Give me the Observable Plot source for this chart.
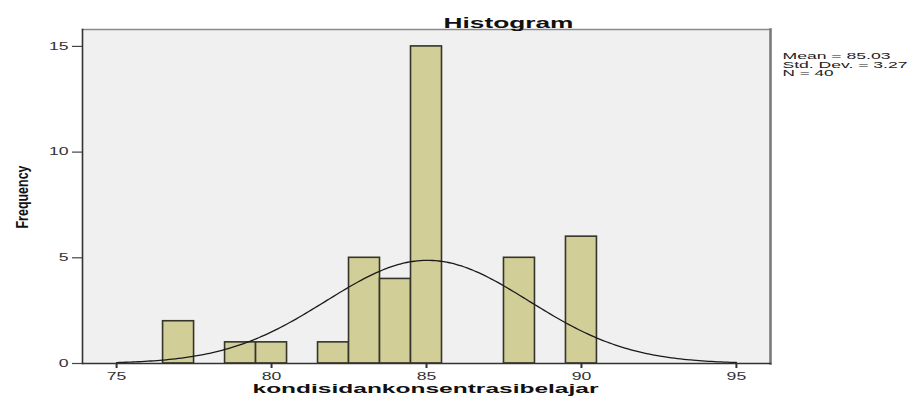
<!DOCTYPE html>
<html>
<head>
<meta charset="utf-8">
<script src="https://cdn.jsdelivr.net/npm/d3@7"></script>
<script src="https://cdn.jsdelivr.net/npm/@observablehq/plot@0.6"></script>
<style>
  html, body { margin: 0; padding: 0; background: #fff; }
  #chart svg { display: block; }
</style>
</head>
<body>
<div id="chart"></div>
<script>
// ---- data ----
const binCenters = [77, 79, 80, 82, 83, 84, 85, 88, 90];
const binCounts  = [2, 1, 1, 1, 5, 4, 15, 5, 6];
const binWidth = 1;
const xTicks = [75, 80, 85, 90, 95];
const yTicks = [0, 5, 10, 15];
const xDomain = [73.9, 96.1];
const yDomain = [0, 15.8];
const mean = 85.03, stdDev = 3.27, nObs = 40;
const titleText = "Histogram";
const xLabel = "kondisidankonsentrasibelajar";
const yLabel = "Frequency";
const statLines = ["Mean = 85.03", "Std. Dev. = 3.27", "N = 40"];

// ---- derived tables ----
const bars = binCenters.map((c, i) => ({x1: c - binWidth / 2, x2: c + binWidth / 2, count: binCounts[i]}));
// fitted normal curve (scaled to counts) over the axis range
const curve = d3.range(75, 95.001, 0.1).map(x => ({
  x,
  y: nObs * binWidth * Math.exp(-0.5 * ((x - mean) / stdDev) ** 2) / (stdDev * Math.sqrt(2 * Math.PI))
}));

const font = "'Liberation Sans', Arial, sans-serif";

const plot = Plot.plot({
  width: 913,
  height: 401,
  marginLeft: 82,
  marginRight: 143,
  marginTop: 29,
  marginBottom: 38,
  style: {fontFamily: font, background: "#fff"},
  x: {domain: xDomain, axis: null},
  y: {domain: yDomain, axis: null},
  marks: [
    Plot.frame({fill: "#f0f0f0", stroke: null}),
    Plot.rectY(bars, {x1: "x1", x2: "x2", y: "count", fill: "#d2ce98", stroke: "#34342a", strokeWidth: 1.6, inset: 0}),
    Plot.line(curve, {x: "x", y: "y", stroke: "#1a1a1a", strokeWidth: 1.3, curve: "basis"}),
    Plot.frame({anchor: "top", stroke: "#8a8a8a", strokeWidth: 1.6}),
    Plot.frame({anchor: "right", stroke: "#7a7a7a", strokeWidth: 2.6}),
    Plot.frame({anchor: "left", stroke: "#333", strokeWidth: 1.6}),
    Plot.frame({anchor: "bottom", stroke: "#333", strokeWidth: 1.6}),
    Plot.axisX({ticks: xTicks, tickSize: 5, tickPadding: 4, label: null, fontSize: 10, fill: "#333", stroke: "#333", strokeWidth: 2}),
    Plot.axisY({ticks: yTicks, tickSize: 10, tickPadding: 4, label: null, fontSize: 10, fill: "#333", stroke: "#444", strokeWidth: 1.2}),
    Plot.text([titleText], {frameAnchor: "top", dx: 82, dy: -11.8, fontSize: 15, fontWeight: "bold", fill: "#111"}),
    Plot.text([yLabel], {frameAnchor: "left", rotate: -90, textAnchor: "start", dx: -60.4, dy: 32, fontSize: 17, fontWeight: "bold", fill: "#111"}),
    Plot.text([xLabel], {frameAnchor: "bottom", dx: -1, dy: 29.8, fontSize: 13, fontWeight: "bold", fill: "#111"}),
    Plot.text([statLines[0]], {frameAnchor: "top-right", textAnchor: "start", dx: 12, dy: 23.4, fontSize: 9, fill: "#222"}),
    Plot.text([statLines[1]], {frameAnchor: "top-right", textAnchor: "start", dx: 12, dy: 31.8, fontSize: 9, fill: "#222"}),
    Plot.text([statLines[2]], {frameAnchor: "top-right", textAnchor: "start", dx: 12, dy: 40.2, fontSize: 9, fill: "#222"})
  ]
});

// stretch/condense texts to SPSS-like widths
const targetLengths = new Map([
  [titleText, 130],
  [yLabel, 63],
  [xLabel, 346],
  [statLines[0], 108],
  [statLines[1], 125],
  [statLines[2], 51]
]);
d3.select(plot).selectAll("text").each(function() {
  const s = this.textContent;
  let len = targetLengths.get(s);
  if (len == null && /^\d+$/.test(s)) len = s.length * 9.8;
  if (len != null) {
    this.setAttribute("textLength", len);
    this.setAttribute("lengthAdjust", "spacingAndGlyphs");
  }
});

document.getElementById("chart").appendChild(plot);
</script>
</body>
</html>
